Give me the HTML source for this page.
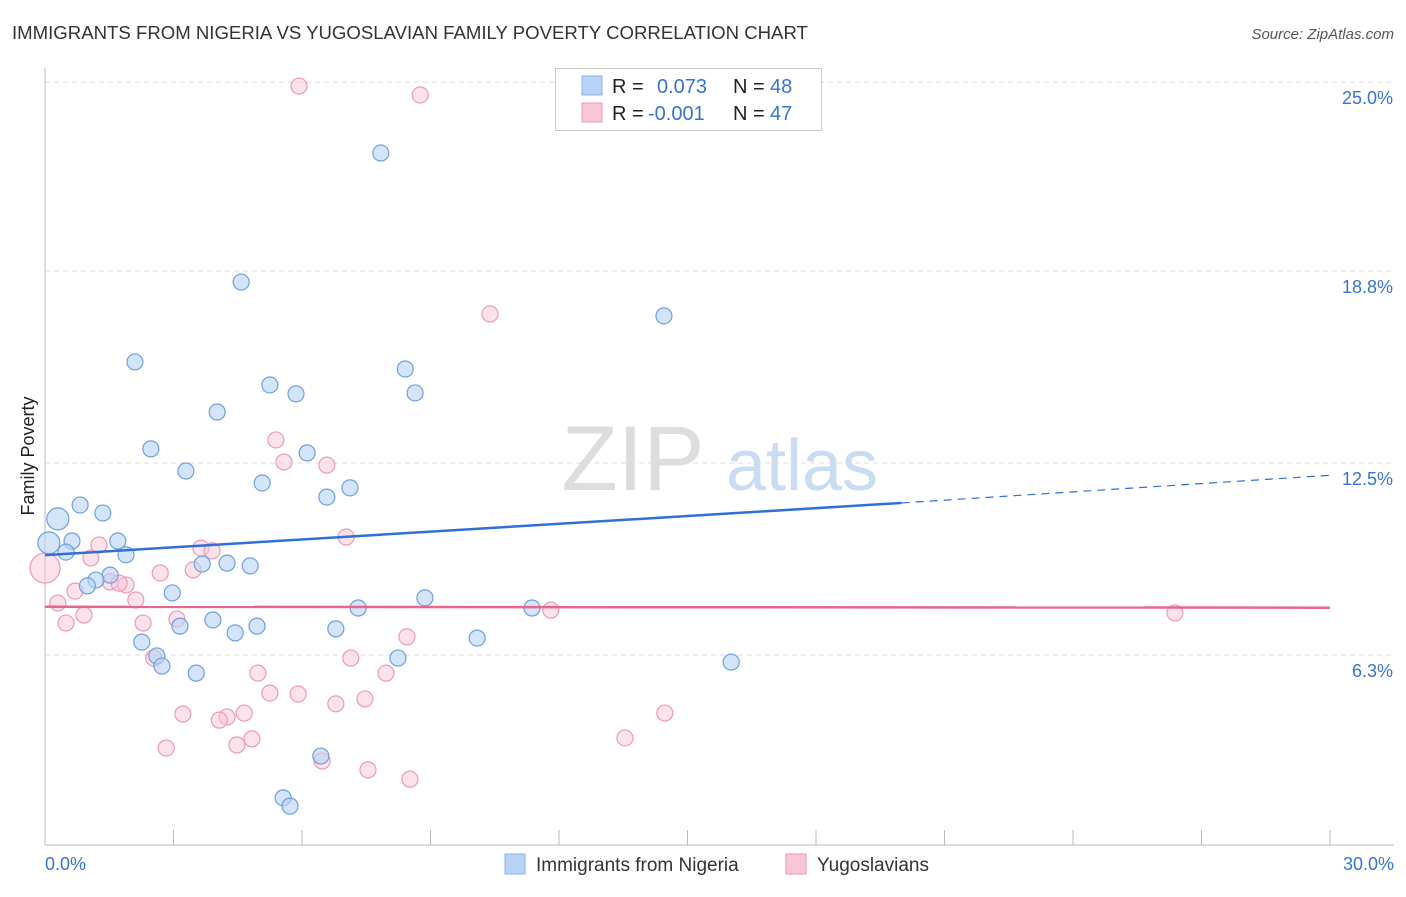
<!DOCTYPE html>
<html><head><meta charset="utf-8"><style>
body{margin:0;background:#fff;font-family:"Liberation Sans",sans-serif;}
svg text{font-family:"Liberation Sans",sans-serif;}
</style></head><body>
<svg id="chart" width="1406" height="892">
<text x="12" y="39" font-size="18.6" fill="#333">IMMIGRANTS FROM NIGERIA VS YUGOSLAVIAN FAMILY POVERTY CORRELATION CHART</text>
<text x="1394" y="39" font-size="15" fill="#555" font-style="italic" text-anchor="end">Source: ZipAtlas.com</text>
<text x="34" y="456" font-size="18" fill="#222" transform="rotate(-90 34 456)" text-anchor="middle">Family Poverty</text>
<g>
<text x="633" y="490" font-size="92" fill="#ddd" font-family="Liberation Serif" text-anchor="middle">ZIP</text>
<text x="802" y="490" font-size="72" fill="#c9dcf2" text-anchor="middle">atlas</text>
</g>
<g id="grid"></g><g id="axes"></g><g id="pts"></g><g id="lines"></g>
<g>
<rect x="555.5" y="68.5" width="266" height="62" fill="#fff" stroke="#ccc"/>
<rect x="582" y="76" width="20" height="19" fill="#b8d3f5" stroke="#8ab2e8"/>
<rect x="582" y="103" width="20" height="19" fill="#f9c6d5" stroke="#ee9ab3"/>
<text x="612" y="93" font-size="20" fill="#222">R =</text><text x="657" y="93" font-size="20" fill="#3873d0">0.073</text>
<text x="733" y="93" font-size="20" fill="#222">N =</text><text x="770" y="93" font-size="20" fill="#3873d0">48</text>
<text x="612" y="120" font-size="20" fill="#222">R =</text><text x="648" y="120" font-size="20" fill="#3873d0">-0.001</text>
<text x="733" y="120" font-size="20" fill="#222">N =</text><text x="770" y="120" font-size="20" fill="#3873d0">47</text>
</g>
<g>
<rect x="505" y="854" width="20" height="20" fill="#b8d3f5" stroke="#8ab2e8"/>
<text x="536" y="871" font-size="19" fill="#333">Immigrants from Nigeria</text>
<rect x="786" y="854" width="20" height="20" fill="#f9c6d5" stroke="#ee9ab3"/>
<text x="817" y="871" font-size="19" fill="#333">Yugoslavians</text>
</g>
</svg>
<script>
const blueX=[7.84,4.58,14.45,2.10,8.41,5.25,5.86,8.64,4.02,2.47,6.12,3.29,5.07,7.12,6.58,0.82,1.35,0.30,0.09,0.63,1.70,0.49,1.89,3.67,4.25,4.79,1.52,1.19,0.99,2.97,8.87,7.31,11.37,3.92,3.15,4.95,4.44,6.79,10.09,2.26,2.61,2.73,8.24,16.02,3.53,6.44,5.56,5.72];
const blueY=[22.59,18.39,17.29,15.79,15.56,15.04,14.75,14.78,14.16,12.96,12.83,12.24,11.85,11.69,11.39,11.13,10.87,10.68,9.90,9.96,9.96,9.60,9.51,9.21,9.24,9.15,8.85,8.69,8.50,8.27,8.11,7.78,7.78,7.39,7.19,7.19,6.97,7.10,6.80,6.67,6.22,5.89,6.15,6.02,5.66,2.96,1.60,1.33];
const pinkX=[5.93,8.76,10.39,5.39,5.58,6.58,7.03,0.0,3.64,3.90,1.26,1.07,2.69,3.46,1.52,1.89,1.73,0.70,0.30,2.12,0.91,0.49,3.08,2.29,11.81,26.38,8.45,2.54,7.14,4.97,7.96,5.25,5.91,6.79,7.47,3.22,4.65,4.25,4.07,14.47,4.83,4.48,2.83,13.54,6.47,7.54,8.52];
const pinkY=[24.77,24.48,17.35,13.25,12.53,12.43,10.09,9.08,9.73,9.64,9.83,9.41,8.92,9.02,8.63,8.53,8.59,8.33,7.94,8.04,7.55,7.29,7.42,7.29,7.71,7.62,6.84,6.15,6.15,5.66,5.66,5.01,4.98,4.66,4.82,4.33,4.36,4.23,4.13,4.36,3.52,3.32,3.22,3.55,2.80,2.51,2.21];
const yTicks=[25.0,18.8,12.5,6.3];
const yTickLabels=["25.0%","18.8%","12.5%","6.3%"];
const xTickCount=10;
const blueTrend=[9.5,11.2,12.1];
const pinkTrend=[7.82,7.79];
const NS="http://www.w3.org/2000/svg";
const X=v=>45+v*1285/30, Y=v=>847-v*30.72;
function mk(t,a,p){const e=document.createElementNS(NS,t);for(const k in a)e.setAttribute(k,a[k]);p.appendChild(e);return e;}
const grid=document.getElementById('grid'),axes=document.getElementById('axes'),pts=document.getElementById('pts'),lines=document.getElementById('lines');
yTicks.forEach((v,i)=>{
 const y=(v===25?Y(24.9):Y(v===18.8?18.75:v===6.3?6.25:v));
 const l=mk('line',{x1:45,x2:1394,y1:y,y2:y,stroke:'#ddd','stroke-dasharray':'5,4'},grid);
 
 
 const t=mk('text',{x:1393,y:y+22,'font-size':18,fill:'#3873d0','text-anchor':'end'},axes);
 t.textContent=yTickLabels[i];
 
 
});
mk('line',{x1:45,x2:45,y1:68,y2:845,stroke:'#bbb'},axes);
mk('line',{x1:45,x2:1394,y1:845,y2:845,stroke:'#bbb'},axes);
for(let i=0;i<=xTickCount;i++){const x=X(i*3);const tk=mk('line',{x1:x,x2:x,y1:830,y2:845,stroke:'#bbb'},axes);
 
 }
const t0=mk('text',{x:45,y:870,'font-size':18,fill:'#3873d0'},axes);t0.textContent='0.0%';


const t1=mk('text',{x:1394,y:870,'font-size':18,fill:'#3873d0','text-anchor':'end'},axes);t1.textContent='30.0%';


function dots(xs,ys,fill,stroke,name){xs.forEach((v,i)=>{
 let r=8; if(name==='nigeria-point'&&v<0.35&&ys[i]>9.8)r=11; if(name==='yugoslavian-point'&&v===0)r=15;
 const c=mk('circle',{cx:X(v),cy:Y(ys[i]),r:r,fill:fill,stroke:stroke,'stroke-width':1.2},pts);
 
 });}
dots(pinkX,pinkY,'rgba(249,198,213,0.5)','#ee9ab3','yugoslavian-point');
dots(blueX,blueY,'rgba(184,211,245,0.6)','#6f9fdf','nigeria-point');
const bl=mk('line',{x1:X(0),y1:Y(blueTrend[0]),x2:X(20),y2:Y(blueTrend[1]),stroke:'#2f6fd6','stroke-width':2.5},lines);


const bd=mk('line',{x1:X(20),y1:Y(blueTrend[1]),x2:X(30),y2:Y(blueTrend[2]),stroke:'#2f6fd6','stroke-width':1.2,'stroke-dasharray':'8,6'},lines);


const pl=mk('line',{x1:X(0),y1:Y(pinkTrend[0]),x2:X(30),y2:Y(pinkTrend[1]),stroke:'#e8668c','stroke-width':2.5},lines);


</script>
</body></html>
